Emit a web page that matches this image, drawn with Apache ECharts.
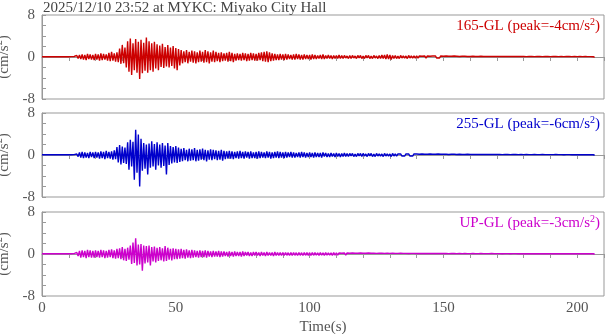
<!DOCTYPE html>
<html>
<head>
<meta charset="utf-8">
<script src="https://cdn.jsdelivr.net/npm/echarts@6/dist/echarts.min.js"></script>
<style>
html, body { margin: 0; padding: 0; background: #fff; }
#chart { width: 605px; height: 334px; }
</style>
</head>
<body>
<div id="chart"></div>
<script>
// waveform envelope: one max and one min per second, t = 0..206 s
const hi165 = [
  0.05,0.04,0.05,0.06,0.05,0.04,0.05,0.06,0.05,0.05,
  0.06,0.08,0.1,0.3,0.4,0.5,0.4,0.6,0.5,0.4,
  0.6,0.5,0.7,0.6,0.5,0.8,1.0,0.7,0.9,1.6,
  2.3,1.8,3.0,3.5,2.6,3.4,2.9,3.3,2.7,3.7,
  3.0,2.6,2.9,2.4,2.2,2.5,1.9,2.3,1.8,2.1,
  1.7,1.5,1.3,1.1,1.3,1.0,1.2,1.1,0.9,1.2,
  1.0,1.3,1.1,0.9,1.2,1.0,0.8,0.9,0.7,0.8,
  1.0,0.8,0.6,0.7,0.6,0.8,0.7,0.6,0.8,0.7,
  0.6,0.8,0.9,1.0,1.1,0.9,0.7,0.6,0.5,0.6,
  0.5,0.6,0.5,0.4,0.5,0.6,0.5,0.4,0.5,0.4,
  0.4,0.5,0.4,0.3,0.4,0.5,0.3,0.4,0.3,0.3,
  0.3,0.4,0.3,0.3,0.2,0.3,0.3,0.2,0.3,0.3,
  0.2,0.3,0.3,0.2,0.3,0.2,0.3,0.4,0.4,0.5,
  0.4,0.3,0.3,0.2,0.3,0.2,0.2,0.3,0.2,0.2,
  0.2,0.2,0.15,0.2,0.2,0.15,0.2,0.2,0.15,0.2,
  0.15,0.2,0.15,0.15,0.2,0.15,0.1,0.15,0.15,0.1,
  0.1,0.15,0.1,0.1,0.15,0.1,0.1,0.1,0.12,0.1,
  0.1,0.1,0.12,0.1,0.1,0.1,0.12,0.1,0.1,0.1,
  0.1,0.08,0.1,0.1,0.08,0.1,0.1,0.08,0.1,0.1,
  0.08,0.1,0.1,0.08,0.1,0.08,0.1,0.1,0.08,0.1,
  0.08,0.1,0.08,0.1,0.08,0.08,0.06
];
const lo165 = [
  -0.05,-0.04,-0.05,-0.05,-0.06,-0.05,-0.04,-0.05,-0.06,-0.05,
  -0.06,-0.08,-0.1,-0.3,-0.4,-0.5,-0.6,-0.4,-0.5,-0.6,
  -0.5,-0.7,-0.6,-0.5,-0.7,-0.8,-0.7,-0.9,-1.0,-1.3,
  -1.2,-2.0,-2.8,-3.4,-2.5,-3.0,-4.2,-3.1,-2.6,-3.0,
  -2.5,-2.8,-2.2,-2.5,-1.9,-2.1,-1.8,-2.0,-1.7,-2.2,
  -2.5,-1.6,-1.2,-1.0,-1.2,-0.9,-1.1,-1.2,-1.0,-0.9,
  -1.1,-1.0,-1.2,-0.9,-1.0,-0.8,-1.0,-0.8,-0.7,-0.9,
  -0.8,-1.0,-0.7,-0.6,-0.7,-0.6,-0.8,-0.7,-0.6,-0.7,
  -0.7,-0.6,-0.8,-0.9,-1.0,-0.8,-0.7,-0.6,-0.6,-0.5,
  -0.6,-0.5,-0.4,-0.5,-0.5,-0.4,-0.5,-0.5,-0.4,-0.4,
  -0.5,-0.4,-0.4,-0.3,-0.4,-0.4,-0.3,-0.3,-0.4,-0.3,
  -0.3,-0.3,-0.3,-0.2,-0.3,-0.3,-0.2,-0.3,-0.2,-0.3,
  -0.3,-0.2,-0.3,-0.3,-0.2,-0.3,-0.3,-0.3,-0.4,-0.4,
  -0.5,-0.3,-0.3,-0.3,-0.2,-0.2,-0.3,-0.2,-0.2,-0.2,
  -0.2,-0.15,-0.2,-0.2,-0.15,-0.2,-0.15,-0.2,-0.2,-0.15,
  -0.2,-0.15,-0.15,-0.2,-0.15,-0.1,-0.15,-0.15,-0.1,-0.15,
  -0.1,-0.1,-0.15,-0.1,-0.1,-0.12,-0.1,-0.1,-0.1,-0.1,
  -0.1,-0.12,-0.1,-0.1,-0.1,-0.12,-0.1,-0.1,-0.1,-0.08,
  -0.1,-0.1,-0.08,-0.1,-0.1,-0.08,-0.1,-0.1,-0.08,-0.1,
  -0.1,-0.08,-0.1,-0.1,-0.08,-0.1,-0.1,-0.08,-0.1,-0.08,
  -0.1,-0.08,-0.1,-0.08,-0.08,-0.06,-0.06
];
const hi255 = [
  0.05,0.04,0.05,0.05,0.06,0.05,0.04,0.05,0.05,0.06,
  0.05,0.06,0.08,0.2,0.5,0.6,0.5,0.4,0.6,0.5,
  0.6,0.5,0.7,0.6,0.8,0.6,0.7,0.9,1.5,1.9,
  1.6,1.4,2.4,2.9,2.5,4.8,3.9,3.1,2.3,2.0,
  2.2,2.6,2.1,2.4,2.0,2.3,1.8,2.3,1.7,1.5,
  1.7,1.4,1.2,1.3,1.0,1.2,1.1,1.3,1.0,1.1,
  1.2,1.0,0.9,1.1,1.0,0.9,0.8,1.0,0.8,0.7,
  0.8,0.7,0.6,0.7,0.8,0.6,0.7,0.6,0.7,0.5,
  0.6,0.7,0.6,0.5,0.7,0.6,0.5,0.6,0.7,0.6,
  0.5,0.6,0.5,0.6,0.5,0.4,0.5,0.6,0.5,0.4,
  0.5,0.4,0.5,0.4,0.4,0.5,0.4,0.3,0.4,0.3,
  0.4,0.3,0.3,0.4,0.3,0.3,0.3,0.2,0.3,0.3,
  0.3,0.2,0.3,0.3,0.2,0.3,0.2,0.2,0.3,0.2,
  0.2,0.3,0.2,0.2,0.2,0.15,0.2,0.2,0.15,0.2,
  0.2,0.15,0.2,0.15,0.15,0.2,0.15,0.15,0.2,0.15,
  0.15,0.15,0.1,0.15,0.15,0.1,0.15,0.1,0.1,0.15,
  0.1,0.12,0.1,0.1,0.12,0.1,0.1,0.12,0.1,0.1,
  0.1,0.1,0.08,0.1,0.1,0.08,0.1,0.1,0.08,0.1,
  0.08,0.1,0.08,0.08,0.1,0.08,0.08,0.1,0.08,0.08,
  0.08,0.08,0.1,0.08,0.08,0.06,0.08,0.08,0.06,0.08,
  0.06,0.08,0.06,0.06,0.08,0.06,0.05
];
const lo255 = [
  -0.05,-0.05,-0.04,-0.05,-0.05,-0.06,-0.05,-0.04,-0.05,-0.05,
  -0.05,-0.06,-0.08,-0.3,-0.5,-0.6,-0.5,-0.6,-0.4,-0.6,
  -0.5,-0.7,-0.6,-0.8,-0.6,-0.7,-0.9,-0.8,-1.4,-1.8,
  -1.5,-1.7,-2.8,-2.2,-4.7,-3.4,-6.0,-3.0,-2.6,-3.7,
  -2.4,-2.2,-2.8,-2.0,-2.4,-2.1,-3.7,-1.9,-1.6,-1.4,
  -1.5,-1.3,-1.2,-1.0,-1.2,-1.1,-1.0,-1.2,-1.1,-0.9,
  -1.0,-1.2,-0.9,-1.0,-0.8,-1.0,-0.9,-1.1,-0.8,-0.7,
  -0.7,-0.8,-0.6,-0.7,-0.6,-0.7,-0.5,-0.7,-0.6,-0.6,
  -0.7,-0.6,-0.5,-0.6,-0.5,-0.7,-0.6,-0.5,-0.6,-0.5,
  -0.6,-0.5,-0.4,-0.5,-0.5,-0.4,-0.5,-0.4,-0.5,-0.4,
  -0.4,-0.5,-0.4,-0.4,-0.5,-0.3,-0.4,-0.4,-0.3,-0.4,
  -0.3,-0.4,-0.3,-0.3,-0.3,-0.2,-0.3,-0.3,-0.2,-0.3,
  -0.2,-0.3,-0.2,-0.3,-0.3,-0.2,-0.2,-0.3,-0.2,-0.2,
  -0.3,-0.2,-0.2,-0.15,-0.2,-0.2,-0.15,-0.2,-0.2,-0.15,
  -0.15,-0.2,-0.15,-0.2,-0.15,-0.15,-0.2,-0.15,-0.15,-0.2,
  -0.1,-0.15,-0.15,-0.1,-0.15,-0.1,-0.1,-0.15,-0.1,-0.1,
  -0.12,-0.1,-0.1,-0.12,-0.1,-0.1,-0.12,-0.1,-0.1,-0.1,
  -0.08,-0.1,-0.1,-0.08,-0.1,-0.1,-0.08,-0.1,-0.08,-0.08,
  -0.1,-0.08,-0.08,-0.1,-0.08,-0.08,-0.1,-0.08,-0.08,-0.08,
  -0.08,-0.1,-0.08,-0.08,-0.06,-0.08,-0.08,-0.06,-0.08,-0.06,
  -0.08,-0.06,-0.06,-0.08,-0.06,-0.06,-0.05
];
const hiUP = [
  0.05,0.05,0.04,0.05,0.06,0.05,0.05,0.04,0.05,0.05,
  0.05,0.06,0.08,0.3,0.6,0.7,0.6,0.8,0.7,0.6,
  0.7,0.6,0.8,0.7,0.6,0.8,0.9,0.7,1.0,1.1,
  1.3,1.0,1.2,1.6,2.2,3.0,1.8,1.9,1.6,1.5,
  1.6,1.3,1.4,1.2,1.3,1.1,1.5,1.2,1.0,1.1,
  1.0,0.9,1.0,0.8,0.9,0.7,0.8,0.7,0.6,0.7,
  0.6,0.7,0.6,0.5,0.6,0.5,0.6,0.5,0.5,0.4,
  0.5,0.4,0.5,0.4,0.4,0.5,0.4,0.4,0.3,0.4,
  0.4,0.3,0.4,0.3,0.4,0.3,0.3,0.4,0.3,0.3,
  0.3,0.3,0.25,0.3,0.3,0.25,0.3,0.25,0.3,0.25,
  0.25,0.3,0.25,0.2,0.25,0.2,0.25,0.2,0.2,0.25,
  0.2,0.2,0.15,0.2,0.2,0.15,0.2,0.15,0.15,0.2,
  0.15,0.15,0.2,0.15,0.15,0.12,0.15,0.15,0.12,0.15,
  0.12,0.15,0.12,0.12,0.15,0.12,0.12,0.1,0.12,0.12,
  0.1,0.12,0.1,0.1,0.12,0.1,0.1,0.12,0.1,0.1,
  0.1,0.1,0.08,0.1,0.1,0.08,0.1,0.08,0.1,0.08,
  0.08,0.1,0.08,0.08,0.1,0.08,0.08,0.08,0.1,0.08,
  0.08,0.08,0.06,0.08,0.08,0.06,0.08,0.08,0.06,0.08,
  0.06,0.08,0.06,0.06,0.08,0.06,0.06,0.08,0.06,0.06,
  0.06,0.06,0.08,0.06,0.06,0.05,0.06,0.06,0.05,0.06,
  0.05,0.06,0.05,0.05,0.06,0.05,0.05
];
const loUP = [
  -0.05,-0.04,-0.05,-0.05,-0.05,-0.06,-0.04,-0.05,-0.05,-0.05,
  -0.05,-0.06,-0.08,-0.4,-0.7,-0.6,-0.8,-0.6,-0.7,-0.7,
  -0.6,-0.7,-0.6,-0.8,-0.7,-0.6,-0.8,-0.9,-0.8,-1.0,
  -1.2,-1.3,-1.1,-1.9,-1.7,-2.2,-2.0,-3.2,-1.8,-1.6,
  -2.2,-1.4,-1.6,-1.3,-1.2,-1.4,-1.3,-1.1,-1.2,-1.0,
  -1.0,-0.9,-0.8,-0.9,-0.7,-0.8,-0.7,-0.6,-0.7,-0.6,
  -0.6,-0.7,-0.5,-0.6,-0.5,-0.5,-0.6,-0.5,-0.4,-0.5,
  -0.4,-0.5,-0.4,-0.4,-0.5,-0.4,-0.3,-0.4,-0.4,-0.3,
  -0.3,-0.4,-0.3,-0.4,-0.3,-0.3,-0.4,-0.3,-0.3,-0.3,
  -0.3,-0.25,-0.3,-0.3,-0.25,-0.3,-0.25,-0.3,-0.25,-0.25,
  -0.3,-0.25,-0.2,-0.25,-0.2,-0.25,-0.2,-0.2,-0.25,-0.2,
  -0.2,-0.15,-0.2,-0.2,-0.15,-0.2,-0.15,-0.15,-0.2,-0.15,
  -0.15,-0.2,-0.15,-0.12,-0.15,-0.15,-0.12,-0.15,-0.15,-0.12,
  -0.15,-0.12,-0.12,-0.15,-0.12,-0.1,-0.12,-0.12,-0.1,-0.12,
  -0.12,-0.1,-0.1,-0.12,-0.1,-0.1,-0.12,-0.1,-0.1,-0.1,
  -0.1,-0.08,-0.1,-0.1,-0.08,-0.1,-0.08,-0.1,-0.08,-0.1,
  -0.08,-0.08,-0.1,-0.08,-0.08,-0.08,-0.1,-0.08,-0.08,-0.08,
  -0.06,-0.08,-0.08,-0.06,-0.08,-0.08,-0.06,-0.08,-0.06,-0.06,
  -0.08,-0.06,-0.06,-0.08,-0.06,-0.06,-0.08,-0.06,-0.06,-0.06,
  -0.06,-0.05,-0.06,-0.06,-0.05,-0.06,-0.05,-0.06,-0.05,-0.05,
  -0.06,-0.05,-0.05,-0.06,-0.05,-0.05,-0.05
];

const channels = ['165-GL', '255-GL', 'UP-GL'];
const peaks = [-4, -6, -3];
const colors = ['#cc0000', '#0000cc', '#cc00cc'];
const yTicks = [-8, 0, 8];
const xTicks = [0, 50, 100, 150, 200];

// max then min inside each second
function trace(hi, lo) {
  let pts = [];
  for (let i = 0; i < hi.length; i++) {
    pts.push([i, hi[i]]);
    pts.push([i + 0.5, lo[i]]);
  }
  return pts;
}
const traces = [trace(hi165, lo165), trace(hi255, lo255), trace(hiUP, loUP)];

const font = 'Liberation Serif';
const gray = '#999';
const tops = [15, 113, 212];

let chart = echarts.init(document.getElementById('chart'));
let option = {
  animation: false,
  title: [{
    text: '2025/12/10 23:52 at MYKC: Miyako City Hall',
    left: 43, top: 1, padding: 0,
    textStyle: { fontFamily: font, fontSize: 15, fontWeight: 'normal', color: '#444' }
  }].concat(channels.map((c, i) => ({
    text: '{n|' + c + ' (peak=' + peaks[i] + 'cm/s}{s|2}{n|)}',
    right: 5, top: tops[i] + 2, padding: 0,
    textStyle: {
      fontWeight: 'normal',
      rich: {
        n: { fontFamily: font, fontSize: 15, fontWeight: 'normal', color: colors[i] },
        s: { fontFamily: font, fontSize: 10, fontWeight: 'normal', color: colors[i], padding: [0, 0, 9, 0] }
      }
    }
  }))),
  grid: tops.map(t => ({
    left: 42, top: t, width: 562, height: 84,
    containLabel: false, outerBoundsMode: 'none',
    show: true, borderColor: gray, borderWidth: 1
  })),
  xAxis: tops.map((t, i) => ({
    type: 'value', gridIndex: i, min: 0, max: 210, interval: 50,
    axisLine: { show: true, lineStyle: { color: gray } },
    axisTick: { show: true, inside: false, length: 4, lineStyle: { color: gray } },
    minorTick: { show: true, splitNumber: 5, length: 4, lineStyle: { color: gray } },
    splitLine: { show: false },
    axisLabel: {
      show: i === 2, fontFamily: font, fontSize: 15, color: '#555', margin: 5,
      customValues: xTicks
    },
    name: i === 2 ? 'Time(s)' : '',
    nameLocation: 'middle', nameGap: 24,
    nameTextStyle: { fontFamily: font, fontSize: 15, color: '#555' }
  })),
  yAxis: tops.map((t, i) => ({
    type: 'value', gridIndex: i, min: -8, max: 8, interval: 8,
    axisLine: { show: true, lineStyle: { color: gray } },
    axisTick: { show: true, inside: true, length: 4, lineStyle: { color: gray } },
    minorTick: { show: true, splitNumber: 4, length: 4, lineStyle: { color: gray } },
    splitLine: { show: false },
    axisLabel: { fontFamily: font, fontSize: 15, color: '#555', margin: 7, customValues: yTicks },
    name: '{n|(cm/s}{s|2}{n|)}',
    nameLocation: 'middle', nameGap: 21, nameRotate: 90,
    nameTextStyle: {
      rich: {
        n: { fontFamily: font, fontSize: 15, color: '#555' },
        s: { fontFamily: font, fontSize: 10, color: '#555', padding: [0, 0, 9, 0] }
      }
    }
  })),
  series: traces.map((d, i) => ({
    type: 'line', xAxisIndex: i, yAxisIndex: i,
    data: d, showSymbol: false, sampling: 'none',
    lineStyle: { color: colors[i], width: 1.4 },
    itemStyle: { color: colors[i] }
  }))
};
chart.setOption(option);
</script>
</body>
</html>
